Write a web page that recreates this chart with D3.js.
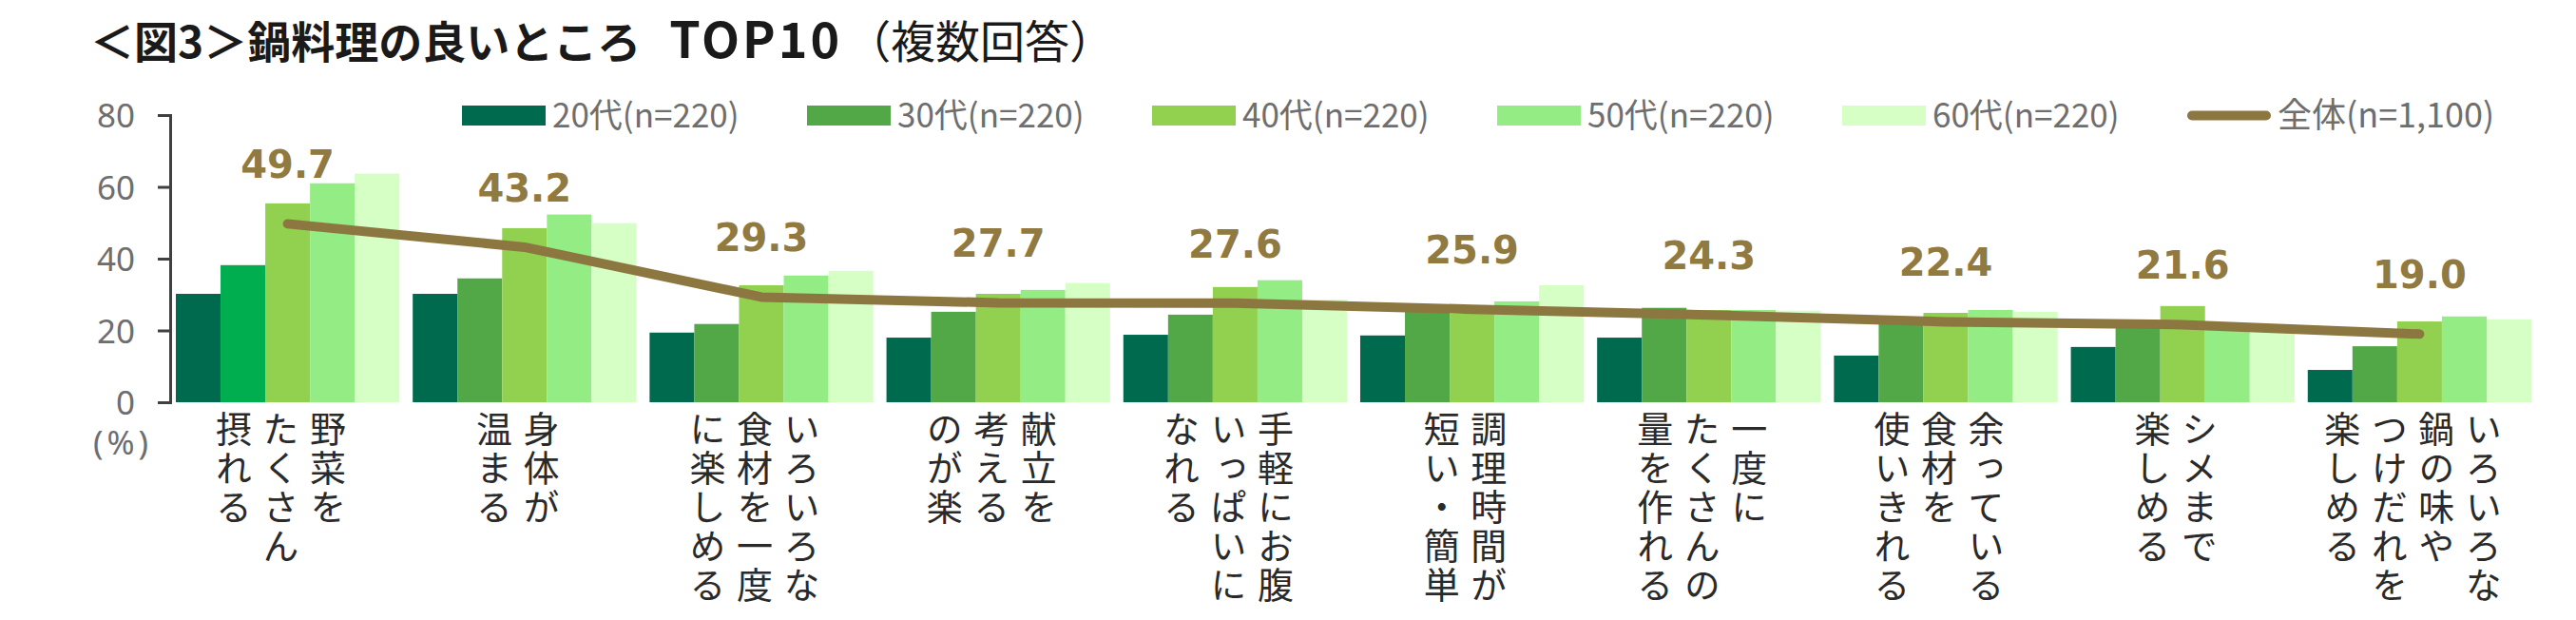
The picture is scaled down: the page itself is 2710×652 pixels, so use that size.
<!DOCTYPE html>
<html><head><meta charset="utf-8">
<script src="https://cdn.jsdelivr.net/npm/d3@7"></script>
<style>
html,body{margin:0;padding:0;background:#fff;}
svg{display:block;}
</style></head>
<body>
<svg id="chart" width="2710" height="652"></svg>
<script>
// ---- data ----
const categories = [
  "野菜をたくさん摂れる","身体が温まる","いろいろな食材を一度に楽しめる","献立を考えるのが楽",
  "手軽にお腹いっぱいになれる","調理時間が短い・簡単","一度にたくさんの量を作れる",
  "余っている食材を使いきれる","シメまで楽しめる","いろいろな鍋の味やつけだれを楽しめる"
];
const categoryColumns = [
  ["野菜を","たくさん","摂れる"],
  ["身体が","温まる"],
  ["いろいろな","食材を一度","に楽しめる"],
  ["献立を","考える","のが楽"],
  ["手軽にお腹","いっぱいに","なれる"],
  ["調理時間が","短い・簡単"],
  ["一度に","たくさんの","量を作れる"],
  ["余っている","食材を","使いきれる"],
  ["シメまで","楽しめる"],
  ["いろいろな","鍋の味や","つけだれを","楽しめる"]
];
const seriesNames = ["20代(n=220)","30代(n=220)","40代(n=220)","50代(n=220)","60代(n=220)"];
const values20 = [30.2, 30.2, 19.4, 18.0, 18.8, 18.6, 18.0, 13.0, 15.4, 9.0];
const values30 = [38.2, 34.5, 21.8, 25.2, 24.4, 25.5, 26.3, 23.2, 22.3, 15.6];
const values40 = [55.4, 48.5, 32.6, 30.2, 32.1, 24.7, 25.7, 24.9, 26.8, 22.5];
const values50 = [61.0, 52.3, 35.3, 31.3, 34.0, 28.1, 25.7, 25.7, 21.8, 23.9];
const values60 = [63.7, 49.9, 36.6, 33.2, 28.6, 32.6, 25.5, 25.2, 21.7, 23.1];
const totalName = "全体(n=1,100)";
const totalValues = [49.7, 43.2, 29.3, 27.7, 27.6, 25.9, 24.3, 22.4, 21.6, 19.0];
const yTicks = [0, 20, 40, 60, 80];
const titleMain = "＜図3＞鍋料理の良いところ";
const titleTop = "TOP10";
const titleSub = "（複数回答）";
const unitLabel = "(%)";

// ---- style ----
const seriesColors = ["#006a4e","#52a846","#92d050","#94ec84","#d6ffc6"];
const highlightColor = "#00ae4f"; // 30代 bar of first category
const lineColor = "#8d7741";
const labelColor = "#917a40";
const grayText = "#6e6e6e";
const jp = "'Noto Sans CJK JP','Noto Sans',sans-serif";

const svg = d3.select("#chart");
const seriesValues = [values20, values30, values40, values50, values60];

const x = d3.scaleBand().domain(d3.range(categories.length))
  .range([179, 2669]).paddingInner(0.056).paddingOuter(0.024);
const xs = d3.scaleBand().domain(d3.range(seriesNames.length)).range([0, x.bandwidth()]);
const y = d3.scaleLinear().domain([0, 80]).range([423, 121]);

// title
const title = svg.append("text").attr("x", 95).attr("y", 61)
  .attr("font-family", jp).attr("font-size", 46).attr("fill", "#1a1a1a");
title.append("tspan").attr("font-weight", 700).text(titleMain);
title.append("tspan").attr("font-weight", 700).attr("dx", 30).attr("font-size", 52)
  .attr("letter-spacing", 3).text(titleTop);
title.append("tspan").attr("font-weight", 400).attr("dx", 4).attr("font-size", 47).text(titleSub);

// bars
categories.forEach((c, i) => {
  const g = svg.append("g").attr("transform", `translate(${x(i)},0)`);
  seriesValues.forEach((vals, s) => {
    g.append("rect")
      .attr("x", xs(s)).attr("width", xs.bandwidth())
      .attr("y", y(vals[i])).attr("height", y(0) - y(vals[i]))
      .attr("fill", (i === 0 && s === 1) ? highlightColor : seriesColors[s]);
  });
});

// axis
const axis = d3.axisLeft(y).tickValues(yTicks).tickSize(13).tickPadding(24);
const ag = svg.append("g").attr("transform", "translate(179,0)").call(axis);
ag.select(".domain").attr("stroke", "#404040").attr("stroke-width", 3);
ag.selectAll(".tick line").attr("stroke", "#404040").attr("stroke-width", 3);
ag.selectAll(".tick text").attr("font-family", "'Noto Sans',sans-serif").attr("font-size", 35)
  .attr("fill", grayText).attr("dy", "0.36em");
svg.append("text").attr("x", 129).attr("y", 478).attr("text-anchor", "middle")
  .attr("font-family", "'Noto Sans',sans-serif").attr("font-size", 35)
  .attr("letter-spacing", 4).attr("fill", grayText).text(unitLabel);

// total line
const cx = i => x(i) + x.bandwidth() / 2;
const line = d3.line().x((d, i) => cx(i)).y(d => y(d));
svg.append("path").datum(totalValues).attr("d", line)
  .attr("fill", "none").attr("stroke", lineColor).attr("stroke-width", 10)
  .attr("stroke-linecap", "round").attr("stroke-linejoin", "round");

// data labels
svg.selectAll("text.vlab").data(totalValues).enter().append("text")
  .attr("class", "vlab")
  .attr("x", (d, i) => cx(i)).attr("y", d => y(d) - 48)
  .attr("text-anchor", "middle").attr("font-family", "'DejaVu Sans',sans-serif")
  .attr("font-weight", 700).attr("font-size", 40).attr("fill", labelColor)
  .text(d => d.toFixed(1));

// category labels (vertical, columns right-to-left)
const colPitch = 49.5, rowPitch = 41, labelFont = 38, rowTop = 432;
categoryColumns.forEach((cols, i) => {
  const n = cols.length;
  cols.forEach((col, k) => {
    const colX = cx(i) - 7 + ((n - 1) / 2 - k) * colPitch;
    Array.from(col).forEach((ch, r) => {
      svg.append("text")
        .attr("x", colX).attr("y", rowTop + r * rowPitch)
        .style("writing-mode", "vertical-rl")
        .attr("font-family", jp).attr("font-size", labelFont).attr("fill", "#2a2a2a")
        .text(ch);
    });
  });
});

// legend
const legX0 = 486, legStep = 363, legY = 121.5;
seriesNames.forEach((name, s) => {
  const lx = legX0 + s * legStep;
  svg.append("rect").attr("x", lx).attr("y", legY - 10.5).attr("width", 88).attr("height", 21)
    .attr("fill", seriesColors[s]);
  svg.append("text").attr("x", lx + 95).attr("y", legY).attr("dy", "0.36em")
    .attr("font-family", jp).attr("font-size", 35).attr("fill", grayText).text(name);
});
{
  const lx = legX0 + seriesNames.length * legStep;
  svg.append("line").attr("x1", lx + 5).attr("x2", lx + 83).attr("y1", legY).attr("y2", legY)
    .attr("stroke", lineColor).attr("stroke-width", 10).attr("stroke-linecap", "round");
  svg.append("text").attr("x", lx + 95).attr("y", legY).attr("dy", "0.36em")
    .attr("font-family", jp).attr("font-size", 36).attr("fill", grayText).text(totalName);
}
</script>
</body></html>
